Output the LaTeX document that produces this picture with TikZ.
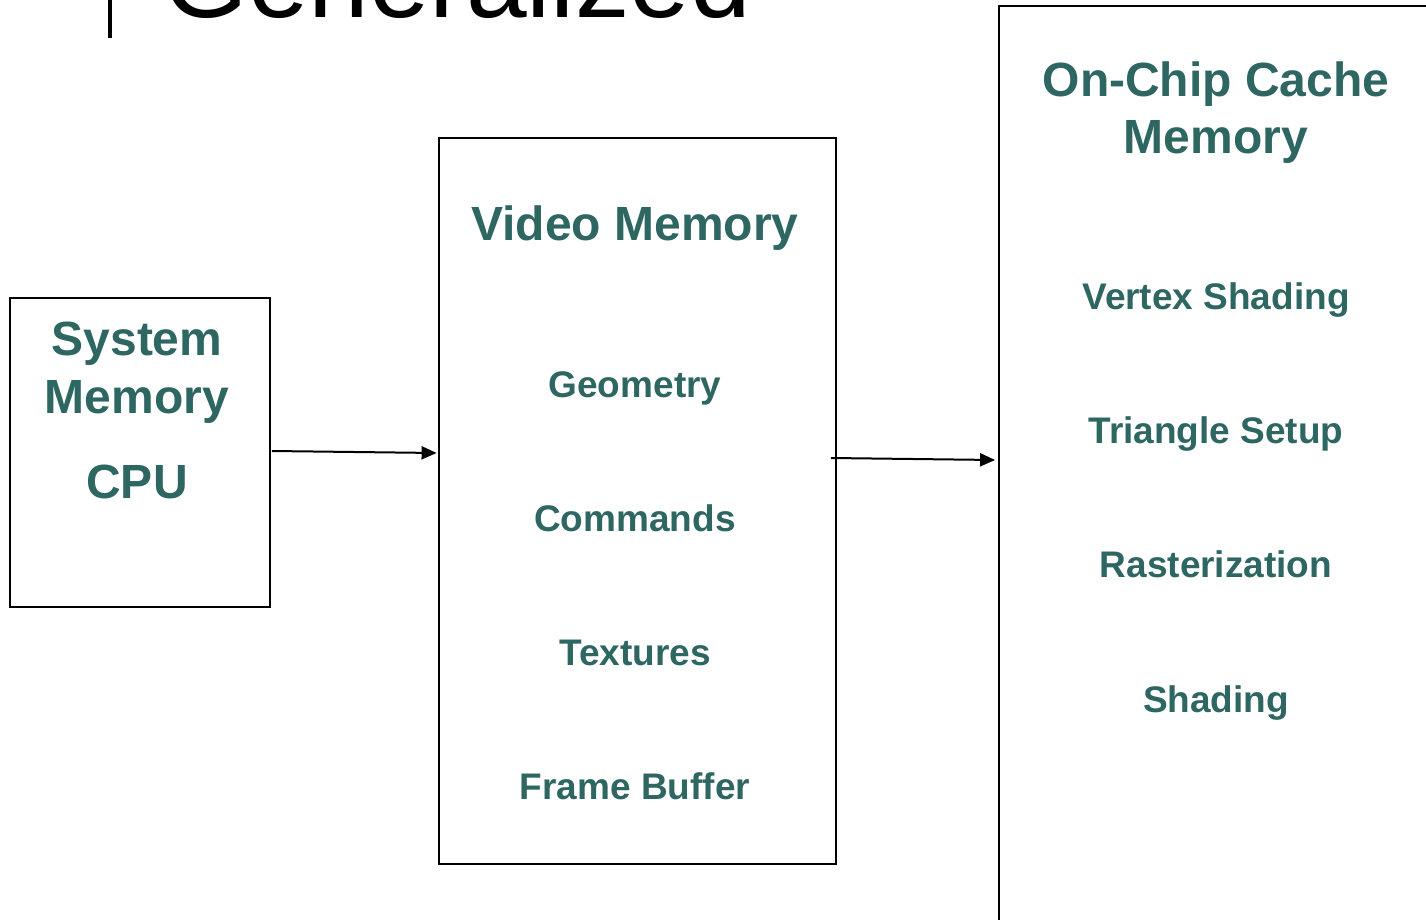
\documentclass[tikz,border=0pt]{standalone}
\usepackage{fontspec}
\setmainfont{Liberation Sans}
\usetikzlibrary{arrows.meta}
\definecolor{teal1}{RGB}{46,102,98}
\tikzset{
  box/.style={draw=black, line width=1.9pt, inner sep=0pt},
  big/.style={font=\fontsize{48}{58}\selectfont\bfseries, text=teal1, inner sep=0pt, anchor=base},
  item/.style={font=\fontsize{37}{44}\selectfont\bfseries, text=teal1, inner sep=0pt, anchor=base},
  arr/.style={line width=2pt, -{Triangle[length=15pt,width=13pt]}}
}
\begin{document}
\begin{tikzpicture}[x=1pt,y=-1pt]
\useasboundingbox (0,0) rectangle (1426,920);
\clip (0,0) rectangle (1426,920);
% title (cut off at the top)
\node[inner sep=0pt, anchor=base west, font=\fontsize{109}{120}\selectfont] (title) at (163,18) {Generalized};
\coordinate (bartop) at (110,-2);
\coordinate (barbot) at (110,38);
\draw[line width=4.5pt] (bartop) -- (barbot);
% boxes
\node[box, minimum width=260pt, minimum height=309pt] (sys) at (140,452.5) {};
\node[box, minimum width=397pt, minimum height=726pt] (vid) at (637.5,501) {};
\node[box, minimum width=441pt, minimum height=924pt] (chip) at (1219.5,468) {};
% system memory texts
\node[big] (t1) at (137,355) {System};
\node[big] (t2) at (137,413) {Memory};
\node[big] (t3) at (137,498) {CPU};
% video memory texts
\node[big] (v0) at (635,240) {Video Memory};
\node[item] (v1) at (635,397) {Geometry};
\node[item] (v2) at (635,531) {Commands};
\node[item] (v3) at (635,665) {Textures};
\node[item] (v4) at (635,799) {Frame Buffer};
% on-chip texts
\node[big] (c0) at (1216,97) {On-Chip Cache};
\node[big] (c0b) at (1216,154) {Memory};
\node[item] (c1) at (1216,309) {Vertex Shading};
\node[item] (c2) at (1216,443) {Triangle Setup};
\node[item] (c3) at (1216,577) {Rasterization};
\node[item] (c4) at (1216,712) {Shading};
% arrows
\draw[arr] ([xshift=1pt,yshift=1.5pt]sys.east) -- ([xshift=-1.5pt,yshift=48pt]vid.west);
\draw[arr] ([xshift=-6pt,yshift=43pt]vid.east) -- ([xshift=-3pt,yshift=8pt]chip.west);
\end{tikzpicture}
\end{document}
